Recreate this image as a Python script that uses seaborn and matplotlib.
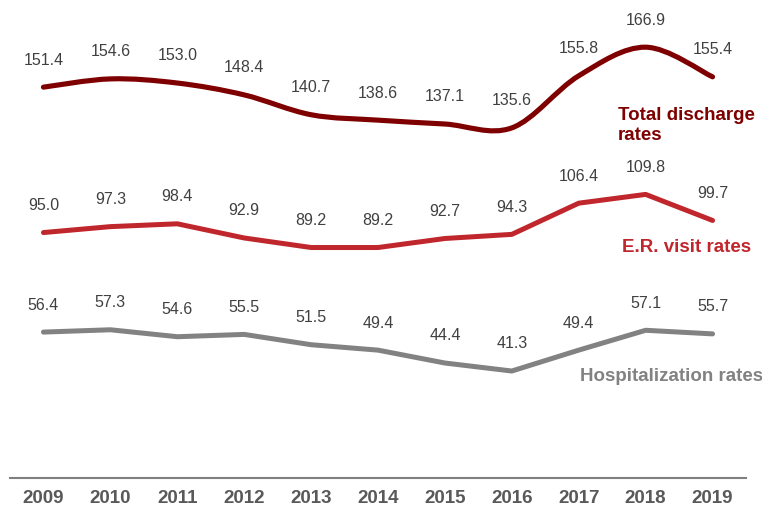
import numpy as np
import pandas as pd
import seaborn as sns
import matplotlib.pyplot as plt
from matplotlib.path import Path
from matplotlib.patches import PathPatch

years = ['2009', '2010', '2011', '2012', '2013', '2014', '2015', '2016', '2017', '2018', '2019']
total_discharge = [151.4, 154.6, 153.0, 148.4, 140.7, 138.6, 137.1, 135.6, 155.8, 166.9, 155.4]
er_visits = [95.0, 97.3, 98.4, 92.9, 89.2, 89.2, 92.7, 94.3, 106.4, 109.8, 99.7]
hospitalization = [56.4, 57.3, 54.6, 55.5, 51.5, 49.4, 44.4, 41.3, 49.4, 57.1, 55.7]

c_total = '#7f0000'
c_er = '#c0272d'
c_hosp = '#828282'
c_text = '#404040'

sns.set_theme(style='white')
plt.rcParams['font.family'] = ['Liberation Sans', 'DejaVu Sans']

fig = plt.figure(figsize=(7.62, 5.07), dpi=100)
ax = fig.add_axes([10 / 762, 29.5 / 507, 736 / 762, 477.5 / 507])

x = np.arange(len(years))
df = pd.DataFrame({'x': x, 'er': er_visits, 'hosp': hospitalization})

# smooth curve for total discharge (Catmull-Rom drawn as bezier segments)
pts = np.column_stack([x, total_discharge]).astype(float)
verts = [tuple(pts[0])]
codes = [Path.MOVETO]
for i in range(len(pts) - 1):
    p0 = pts[i - 1] if i > 0 else pts[i]
    p1, p2 = pts[i], pts[i + 1]
    p3 = pts[i + 2] if i + 2 < len(pts) else pts[i + 1]
    verts += [tuple(p1 + (p2 - p0) / 6), tuple(p2 - (p3 - p1) / 6), tuple(p2)]
    codes += [Path.CURVE4] * 3
ax.add_patch(PathPatch(Path(verts, codes), facecolor='none', edgecolor=c_total,
                       lw=3.7, capstyle='round', joinstyle='round'))

sns.lineplot(data=df, x='x', y='er', color=c_er, lw=3.6, ax=ax,
             solid_capstyle='round', solid_joinstyle='round')
sns.lineplot(data=df, x='x', y='hosp', color=c_hosp, lw=3.6, ax=ax,
             solid_capstyle='round', solid_joinstyle='round')

for series in (total_discharge, er_visits, hospitalization):
    for xi, v in zip(x, series):
        ax.annotate(f'{v:.1f}', (xi, v), xytext=(0, 19.5), textcoords='offset points',
                    ha='center', va='center', fontsize=11.5, color=c_text)

ax.text(8.59, 136.5, 'Total discharge\nrates', color=c_total, fontsize=13.5,
        fontweight='bold', ha='left', va='center', linespacing=1.18)
ax.text(8.65, 89.4, 'E.R. visit rates', color=c_er, fontsize=13.5,
        fontweight='bold', ha='left', va='center')
ax.text(8.02, 39.0, 'Hospitalization rates', color=c_hosp, fontsize=13.5,
        fontweight='bold', ha='left', va='center')

ax.set_xlim(-0.5, len(years) - 0.5)
ax.set_ylim(0, 185.2)
ax.set_xticks(x)
ax.set_xticklabels(years, fontsize=13.5, fontweight='bold', color='#595959')
ax.set_xticks(np.arange(len(years) + 1) - 0.5, minor=True)
ax.tick_params(axis='x', which='major', length=0, pad=9)
ax.tick_params(axis='x', which='minor', length=5, width=1.2, color='#808080', direction='out')
ax.set_yticks([])
ax.set_xlabel('')
ax.set_ylabel('')
sns.despine(ax=ax, left=True, top=True, right=True)
ax.spines['bottom'].set_color('#808080')
ax.spines['bottom'].set_linewidth(1.5)

fig.savefig('out.png', dpi=100)
